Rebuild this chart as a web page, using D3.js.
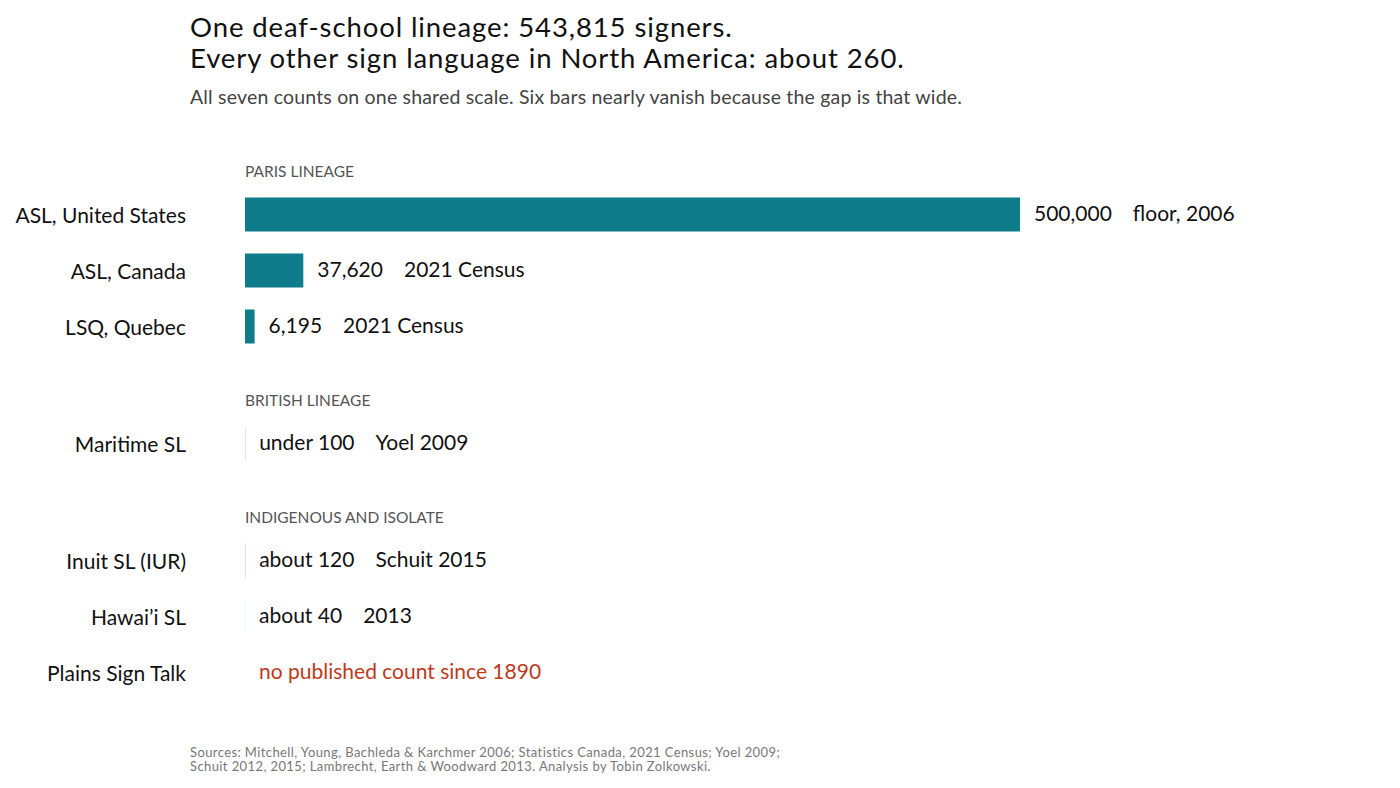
<!DOCTYPE html>
<html><head><meta charset="utf-8">
<script src="https://cdn.jsdelivr.net/npm/d3@7"></script>
<style>
html,body{margin:0;padding:0;background:#fff;}
svg text{font-family:"Lato","Noto Sans",sans-serif;}
</style></head>
<body><svg id="c" width="1400" height="788"></svg>
<script>
const titleLines = ["One deaf-school lineage: 543,815 signers.", "Every other sign language in North America: about 260."];
const subtitle = "All seven counts on one shared scale. Six bars nearly vanish because the gap is that wide.";
const groups = ["PARIS LINEAGE", "BRITISH LINEAGE", "INDIGENOUS AND ISOLATE"];
const categories = ["ASL, United States", "ASL, Canada", "LSQ, Quebec", "Maritime SL", "Inuit SL (IUR)", "Hawai\u2019i SL", "Plains Sign Talk"];
const categoryGroup = [0, 0, 0, 1, 2, 2, 2];
const values = [500000, 37620, 6195, 100, 120, 40, null];
const valueLabels = ["500,000", "37,620", "6,195", "under 100", "about 120", "about 40", "no published count since 1890"];
const notes = ["floor, 2006", "2021 Census", "2021 Census", "Yoel 2009", "Schuit 2015", "2013", ""];
const sources = ["Sources: Mitchell, Young, Bachleda & Karchmer 2006; Statistics Canada, 2021 Census; Yoel 2009;",
                 "Schuit 2012, 2015; Lambrecht, Earth & Woodward 2013.  Analysis by Tobin Zolkowski."];

const svg = d3.select("#c");
const teal = "#0e7c8b", red = "#c0391b";

const x = d3.scaleLinear().domain([0, 500000]).range([245, 1020]);
const rowStep = 56, groupGap = 61, firstRow = 214;
const yRow = i => firstRow + i * rowStep + categoryGroup[i] * groupGap;
const barH = 34;

// title
svg.selectAll("text.title").data(titleLines).join("text")
  .attr("class","title").attr("x",190).attr("y",(d,i)=>37 + i*31)
  .attr("font-size",27.5).attr("letter-spacing",0.9).attr("fill","#111").text(d=>d);
svg.append("text").attr("x",190).attr("y",104).attr("font-size",19.5).attr("letter-spacing",0.18)
  .attr("fill","#444").text(subtitle);

// group headers
groups.forEach((g, gi) => {
  const first = categoryGroup.indexOf(gi);
  svg.append("text").attr("x",245).attr("y",yRow(first) - 37)
    .attr("font-size",15.5).attr("fill","#555").text(g);
});

const rows = svg.selectAll("g.row").data(categories).join("g").attr("class","row")
  .attr("transform",(d,i)=>`translate(0,${yRow(i)})`);

rows.append("text").attr("x",186).attr("y",9).attr("text-anchor","end")
  .attr("font-size",21).attr("fill","#111").text(d=>d);

rows.filter((d,i)=>values[i]!==null).append("rect")
  .attr("x",x(0)).attr("y",-barH/2+0.5)
  .attr("width",(d,i)=> x(values[i]) - x(0))
  .attr("height",barH).attr("fill",teal);

const lab = rows.append("text")
  .attr("x",(d,i)=> (values[i]===null ? x(0) : x(values[i])) + 14)
  .attr("y",7).attr("font-size",21)
  .attr("fill",(d,i)=>values[i]===null ? red : "#111");
lab.append("tspan").text((d,i)=>valueLabels[i]);
lab.append("tspan").attr("dx",21).text((d,i)=>notes[i]);

svg.selectAll("text.src").data(sources).join("text").attr("class","src")
  .attr("x",190).attr("y",(d,i)=>757 + i*14).attr("font-size",13).attr("letter-spacing",0.4)
  .attr("fill","#777").text(d=>d);
</script></body></html>
